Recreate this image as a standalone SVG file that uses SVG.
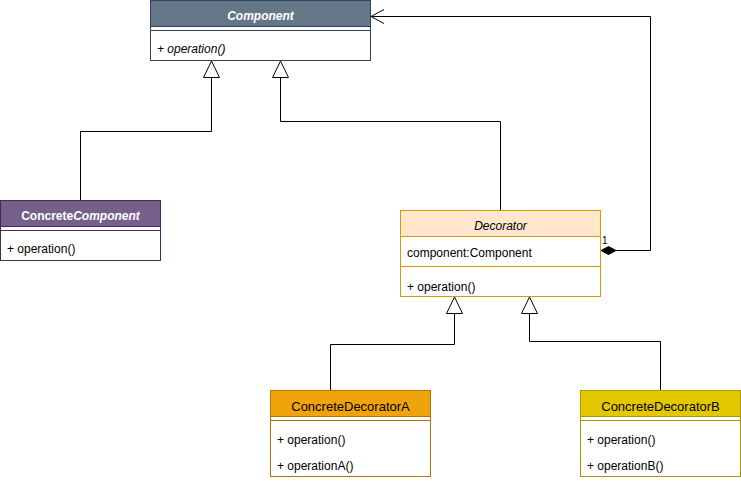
<svg xmlns="http://www.w3.org/2000/svg" width="741" height="481" viewBox="0 0 741 481">
<style>
text{font-family:"Liberation Sans",Arial,sans-serif;font-size:12px;fill:#000}
.t{text-anchor:middle}
.w{fill:#fff}
.b{font-weight:bold}
.i{font-style:italic}
.n{font-style:normal}
.h13{font-size:13px}
.c{fill:none;stroke:#000;stroke-width:1}
.tri{fill:#fff;stroke:#000;stroke-width:1}
</style>
<rect width="741" height="481" fill="#fff"/>
<g id="connectors">
  <polyline class="c" points="80.5,200.5 80.5,131.5 211.5,131.5 211.5,77.5"/>
  <polygon class="tri" points="211.5,61 203.5,77.5 219.5,77.5"/>
  <polyline class="c" points="500.5,210.5 500.5,121.5 280.5,121.5 280.5,77.5"/>
  <polygon class="tri" points="280.5,61 272.5,77.5 288.5,77.5"/>
  <polyline class="c" points="330.5,390.5 330.5,344.5 454.5,344.5 454.5,313.5"/>
  <polygon class="tri" points="454.5,297 446.5,313.5 462.5,313.5"/>
  <polyline class="c" points="660.5,390.5 660.5,341.5 529.5,341.5 529.5,313.5"/>
  <polygon class="tri" points="529.5,297 521.5,313.5 537.5,313.5"/>
  <polyline class="c" points="616,250.5 650.5,250.5 650.5,16.5 371,16.5"/>
  <polyline class="c" points="384,9.5 371,16.5 384,23.5"/>
  <polygon points="601,250.5 608.5,246.5 616,250.5 608.5,254.5" fill="#000" stroke="#000"/>
  <text x="602" y="244" style="font-size:10px">1</text>
</g>
<g id="Component">
  <rect x="150.5" y="0.5" width="220" height="60" fill="#fff" stroke="#314354"/>
  <rect x="150.5" y="0.5" width="220" height="26" fill="#647687" stroke="#314354"/>
  <line x1="150.5" y1="30.5" x2="370.5" y2="30.5" stroke="#314354"/>
  <text class="t w b i" x="260.5" y="19.5">Component</text>
  <text class="i" x="157" y="53">+ operation()</text>
</g>
<g id="ConcreteComponent">
  <rect x="0.5" y="200.5" width="160" height="60" fill="#fff" stroke="#432D57"/>
  <rect x="0.5" y="200.5" width="160" height="26" fill="#76608a" stroke="#432D57"/>
  <line x1="0.5" y1="230.5" x2="160.5" y2="230.5" stroke="#432D57"/>
  <text class="t w b n" x="80.5" y="219.5">Concrete<tspan class="i">Component</tspan></text>
  <text x="7" y="253">+ operation()</text>
</g>
<g id="Decorator">
  <rect x="400.5" y="210.5" width="200" height="86" fill="#fff" stroke="#d79b00"/>
  <rect x="400.5" y="210.5" width="200" height="26" fill="#ffe6cc" stroke="#d79b00"/>
  <line x1="400.5" y1="266.5" x2="600.5" y2="266.5" stroke="#d79b00"/>
  <text class="t i" x="500.5" y="229.5">Decorator</text>
  <text x="407" y="257">component:Component</text>
  <text x="407" y="291">+ operation()</text>
</g>
<g id="ConcreteDecoratorA">
  <rect x="270.5" y="390.5" width="160" height="86" fill="#fff" stroke="#BD7000"/>
  <rect x="270.5" y="390.5" width="160" height="26" fill="#f0a30a" stroke="#BD7000"/>
  <line x1="270.5" y1="420.5" x2="430.5" y2="420.5" stroke="#BD7000"/>
  <text class="t h13" x="350.5" y="410.5">ConcreteDecoratorA</text>
  <text x="277" y="443.5">+ operation()</text>
  <text x="277" y="469.5">+ operationA()</text>
</g>
<g id="ConcreteDecoratorB">
  <rect x="580.5" y="390.5" width="160" height="86" fill="#fff" stroke="#B09500"/>
  <rect x="580.5" y="390.5" width="160" height="26" fill="#e3c800" stroke="#B09500"/>
  <line x1="580.5" y1="420.5" x2="740.5" y2="420.5" stroke="#B09500"/>
  <text class="t h13" x="660.5" y="410.5">ConcreteDecoratorB</text>
  <text x="587" y="443.5">+ operation()</text>
  <text x="587" y="469.5">+ operationB()</text>
</g>
</svg>
